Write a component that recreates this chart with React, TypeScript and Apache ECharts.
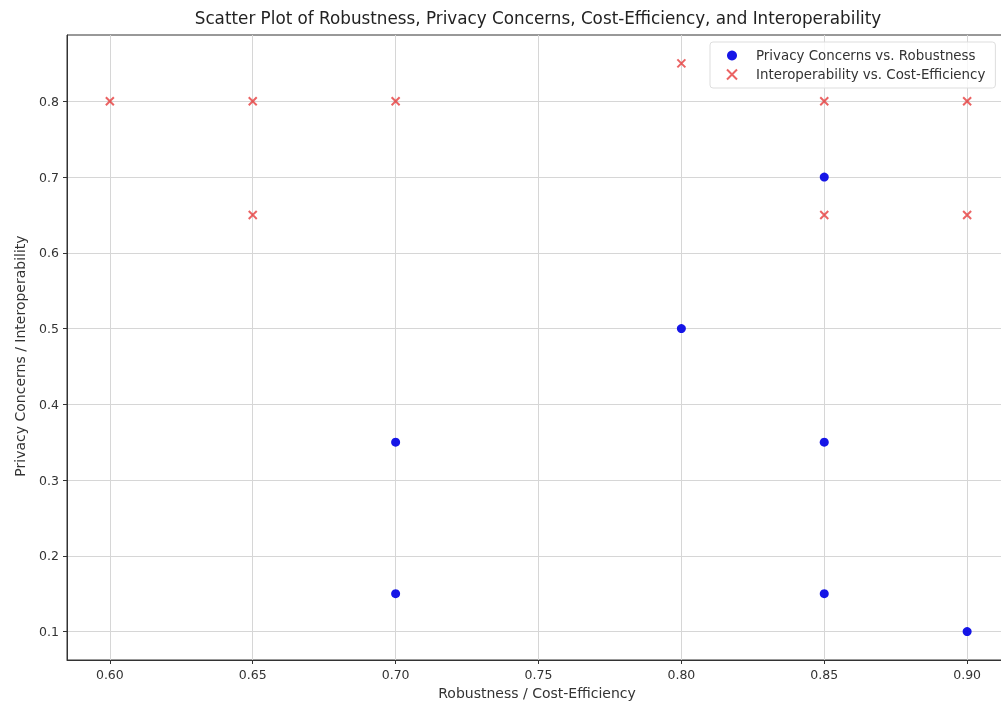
import React, { useEffect, useRef } from "react";
import * as echarts from "echarts";

const privacyX = [0.85, 0.8, 0.7, 0.85, 0.7, 0.85, 0.9];
const privacyY = [0.7, 0.5, 0.35, 0.35, 0.15, 0.15, 0.1];
const interopX = [0.6, 0.65, 0.7, 0.8, 0.85, 0.9, 0.65, 0.85, 0.9];
const interopY = [0.8, 0.8, 0.8, 0.85, 0.8, 0.8, 0.65, 0.65, 0.65];
const xTicks = [0.6, 0.65, 0.7, 0.75, 0.8, 0.85, 0.9];
const yTicks = [0.1, 0.2, 0.3, 0.4, 0.5, 0.6, 0.7, 0.8];

const FONT = "DejaVu Sans";
const X_SYMBOL = "path://M0,0L10,10M10,0L0,10";

export default function App() {
  const ref = useRef<HTMLDivElement>(null);
  useEffect(() => {
    const chart = echarts.init(ref.current!, null, { renderer: "svg" });
    const axisCommon = {
      axisLine: { show: true, onZero: false, lineStyle: { color: "#333", width: 1 } },
      axisTick: { show: true, inside: false, length: 4, lineStyle: { color: "#333" } },
      axisLabel: { color: "#333", fontSize: 12.5, fontFamily: FONT },
      splitLine: { show: true, lineStyle: { color: "#d6d6d6", width: 1 } },
    };
    chart.setOption({
      animation: false,
      textStyle: { fontFamily: FONT },
      grid: { left: 67, right: -9, top: 35, bottom: 44, outerBoundsMode: "none", containLabel: false, show: true, borderColor: "#333", borderWidth: 1, backgroundColor: "transparent" },
      graphic: [
        { type: "text", x: 538, y: 18, style: { text: "Scatter Plot of Robustness, Privacy Concerns, Cost-Efficiency, and Interoperability", font: `16.8px ${FONT}`, fill: "#222", align: "center", verticalAlign: "middle" } },
        { type: "text", x: 537, y: 693, style: { text: "Robustness / Cost-Efficiency", font: `14px ${FONT}`, fill: "#333", align: "center", verticalAlign: "middle" } },
        { type: "text", x: 20, y: 356, rotation: Math.PI / 2, style: { text: "Privacy Concerns / Interoperability", font: `14px ${FONT}`, fill: "#333", align: "center", verticalAlign: "middle" } },
      ],
      xAxis: {
        type: "value",
        min: 0.585,
        max: 0.915,
        ...axisCommon,
        axisTick: { ...axisCommon.axisTick, customValues: xTicks },
        axisLabel: { ...axisCommon.axisLabel, customValues: xTicks, margin: 8, formatter: (v: number) => v.toFixed(2) },
      },
      yAxis: {
        type: "value",
        min: 0.0625,
        max: 0.8875,
        ...axisCommon,
        axisTick: { ...axisCommon.axisTick, customValues: yTicks },
        axisLabel: { ...axisCommon.axisLabel, customValues: yTicks, margin: 8, formatter: (v: number) => v.toFixed(1) },
      },
      legend: {
        left: 710,
        top: 42,
        orient: "vertical",
        itemWidth: 10,
        itemHeight: 10,
        itemGap: 6,
        padding: [7, 10, 7, 16],
        borderColor: "#ddd",
        borderWidth: 1,
        borderRadius: 3,
        backgroundColor: "rgba(255,255,255,0.8)",
        textStyle: { fontSize: 13.4, color: "#333", fontFamily: FONT, padding: [0, 0, 0, 14] },
        data: ["Privacy Concerns vs. Robustness", "Interoperability vs. Cost-Efficiency"],
      },
      series: [
        {
          name: "Privacy Concerns vs. Robustness",
          type: "scatter",
          symbol: "circle",
          symbolSize: 9,
          itemStyle: { color: "#0a0ae6", opacity: 0.95 },
          data: privacyX.map((x, i) => [x, privacyY[i]]),
        },
        {
          name: "Interoperability vs. Cost-Efficiency",
          type: "scatter",
          symbol: X_SYMBOL,
          symbolSize: 8,
          itemStyle: { color: "rgba(225,25,25,0.85)", borderColor: "rgba(225,25,25,0.85)", borderWidth: 2 },
          data: interopX.map((x, i) => [x, interopY[i]]),
        },
      ],
    });
    return () => chart.dispose();
  }, []);
  return <div ref={ref} style={{ position: "fixed", left: 0, top: 0, width: 1001, height: 704 }} />;
}
